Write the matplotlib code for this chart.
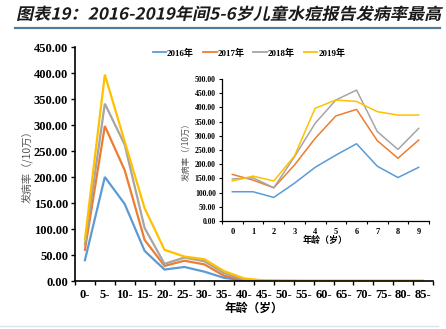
import matplotlib
matplotlib.use("Agg")
import matplotlib.pyplot as plt
from matplotlib.textpath import TextPath
from matplotlib.patches import PathPatch
from matplotlib.font_manager import FontProperties, findfont
from matplotlib.transforms import Affine2D, IdentityTransform
from matplotlib.lines import Line2D
import numpy as np

serif_name = 'Liberation Serif'
try:
    if 'Serif' not in findfont(FontProperties(family=serif_name), fallback_to_default=False):
        serif_name = 'DejaVu Serif'
except Exception:
    serif_name = 'DejaVu Serif'

plt.rcParams['font.family'] = [serif_name, 'Noto Sans CJK SC', 'DejaVu Sans']

title = "图表19：2016-2019年间5-6岁儿童水痘报告发病率最高"
series_names = ["2016年", "2017年", "2018年", "2019年"]
colors = ["#5B9BD5", "#ED7D31", "#A5A5A5", "#FFC000"]

# Main chart: age groups
age_groups = ["0-", "5-", "10-", "15-", "20-", "25-", "30-", "35-", "40-", "45-",
              "50-", "55-", "60-", "65-", "70-", "75-", "80-", "85-"]
main_2016 = [40, 200, 148, 58, 22, 27, 18, 6, 1, 0, 0, 0, 0, 0, 0, 0, 0, 0]
main_2017 = [60, 298, 213, 79, 29, 39, 32, 10, 2, 0, 0, 0, 0, 0, 0, 0, 0, 0]
main_2018 = [70, 341, 262, 102, 33, 45, 38, 15, 3, 0.5, 0, 0, 0, 0, 0, 0, 0, 0]
main_2019 = [80, 397, 268, 140, 60, 47, 42, 19, 5, 1, 0.5, 0, 0, 0, 0, 0, 0, 0]
main_yticks = [0, 50, 100, 150, 200, 250, 300, 350, 400, 450]

# Inset: ages 0-9
inset_ages = ["0", "1", "2", "3", "4", "5", "6", "7", "8", "9"]
inset_2016 = [103, 103, 83, 133, 189, 232, 272, 193, 153, 189]
inset_2017 = [164, 144, 117, 197, 291, 370, 393, 283, 221, 285]
inset_2018 = [148, 152, 117, 226, 344, 426, 461, 315, 252, 326]
inset_2019 = [141, 158, 141, 229, 397, 426, 421, 385, 373, 373]
inset_yticks = [0, 50, 100, 150, 200, 250, 300, 350, 400, 450, 500]

W, H = 446, 329
fig = plt.figure(figsize=(W / 100, H / 100), dpi=100)

def fx(px):
    return px / W

def fy(py):
    return 1 - py / H

# Title (fake italic via skewed text path)
fp = FontProperties(family=['Noto Sans CJK SC'], weight='bold')
tp = TextPath((0, 0), title, size=16, prop=fp)
ext = tp.get_extents()
target_w = 423
s = target_w / ext.width
tr = (Affine2D().translate(-ext.x0, -ext.y0).scale(s, s * 0.95)
      .skew_deg(12, 0).translate(17, H - 21))
fig.add_artist(PathPatch(tr.transform_path(tp), transform=IdentityTransform(),
                         facecolor="#1a1a1a", edgecolor="none"))
fig.add_artist(Line2D([fx(15), fx(440)], [fy(27.5), fy(27.5)], color="#4F7A99", lw=1.6))
fig.add_artist(Line2D([fx(0), fx(438)], [fy(326), fy(326)], color="#DCE3EA", lw=1.0))

tick_fp = dict(fontweight='bold', family=[serif_name])

# Main axes
ax = fig.add_axes([fx(75), fy(281), fx(433) - fx(75), fy(47) - fy(281)])
x = np.arange(len(age_groups))
for vals, c, n in zip([main_2016, main_2017, main_2018, main_2019], colors, series_names):
    ax.plot(x, vals, color=c, lw=1.6, label=n, solid_joinstyle='miter')
ax.set_xlim(-0.5, len(age_groups) - 0.5)
ax.set_ylim(0, 450)
ax.set_yticks(main_yticks)
ax.set_yticklabels([f"{v:.2f}" for v in main_yticks], fontsize=9, **tick_fp)
ax.set_xticks(x)
ax.set_xticklabels(age_groups, fontsize=9, **tick_fp)
ax.set_xticks(np.arange(-0.5, len(age_groups)), minor=True)
ax.tick_params(axis='x', which='major', length=0, pad=6)
ax.tick_params(axis='x', which='minor', length=3, width=1, direction='out')
ax.tick_params(axis='y', length=3, width=1, direction='out', pad=2)
for sp in ['top', 'right']:
    ax.spines[sp].set_visible(False)
for sp in ['left', 'bottom']:
    ax.spines[sp].set_linewidth(1.2)
ax.set_xlabel("年龄（岁）", fontsize=8.5, fontweight='bold',
              family=['Noto Sans CJK SC'], labelpad=0)
ax.set_ylabel("发病率（/10万）", fontsize=7.5, color="#555555",
              family=['Noto Sans CJK SC', serif_name], labelpad=1)
ax.patch.set_alpha(0)

# Inset axes
ai = fig.add_axes([fx(222), fy(221), fx(429) - fx(222), fy(79) - fy(221)])
xi = np.arange(len(inset_ages))
for vals, c, n in zip([inset_2016, inset_2017, inset_2018, inset_2019], colors, series_names):
    ai.plot(xi, vals, color=c, lw=1.1, label=n)
ai.set_xlim(-0.5, len(inset_ages) - 0.5)
ai.set_ylim(0, 500)
ai.set_yticks(inset_yticks)
ai.set_yticklabels([f"{v:.2f}" for v in inset_yticks], fontsize=5.6, **tick_fp)
ai.set_xticks(xi)
ai.set_xticklabels(inset_ages, fontsize=6, **tick_fp)
ai.set_xticks(np.arange(-0.5, len(inset_ages)), minor=True)
ai.tick_params(axis='x', which='major', length=0, pad=5)
ai.tick_params(axis='x', which='minor', length=2.5, width=0.8, direction='out')
ai.tick_params(axis='y', length=2.5, width=0.8, direction='out', pad=2)
for sp in ['top', 'right']:
    ai.spines[sp].set_visible(False)
for sp in ['left', 'bottom']:
    ai.spines[sp].set_linewidth(0.9)
ai.set_xlabel("年龄（岁）", fontsize=6.5, fontweight='bold',
              family=['Noto Sans CJK SC'], labelpad=0)
ai.set_ylabel("发病率（/10万）", fontsize=6, color="#555555",
              family=['Noto Sans CJK SC', serif_name], labelpad=3)
ai.patch.set_alpha(0)

# Legend
handles = [Line2D([0], [0], color=c, lw=1.3) for c in colors]
fig.legend(handles, series_names, loc='center', bbox_to_anchor=(fx(249), fy(53)),
           ncol=4, frameon=False, handlelength=1.5, handletextpad=0.1,
           columnspacing=1.0, prop=FontProperties(family=[serif_name, 'Noto Sans CJK SC'],
                                                  weight='bold', size=6.5))

fig.savefig("out.png", dpi=100)
